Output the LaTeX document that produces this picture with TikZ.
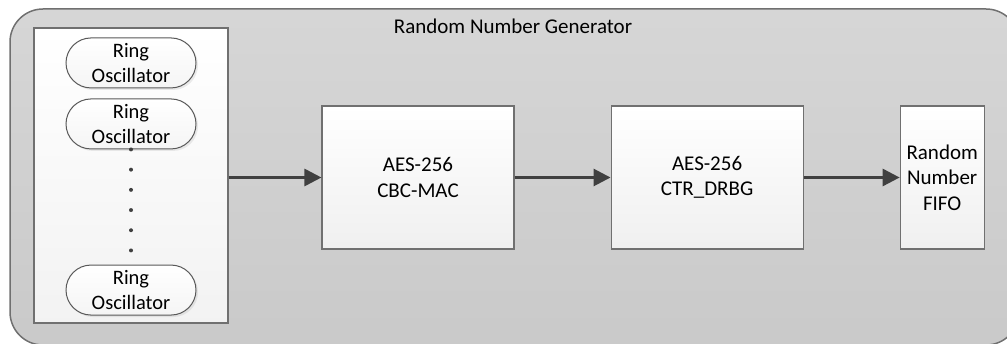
\documentclass[tikz,border=0pt]{standalone}
\usepackage{fontspec}
\setmainfont{Carlito}
\usetikzlibrary{arrows.meta, positioning, shapes.misc, shadows}
\definecolor{rimgray}{HTML}{707070}
\definecolor{flowgray}{HTML}{404040}

\begin{document}
\begin{tikzpicture}[x=1pt, y=1pt,
frame/.style={rectangle, draw=rimgray, line width=1.5pt, rounded corners=33pt, top color=black!16, bottom color=black!21, minimum width=1009pt, minimum height=336pt, inner sep=0pt},
panel/.style={rectangle, draw=rimgray, line width=1.1pt, top color=white, bottom color=black!5, minimum width=194pt, minimum height=295pt, inner sep=0pt},
block/.style={rectangle, draw=rimgray, line width=1.1pt, top color=white, bottom color=black!6, minimum height=143pt, align=center, inner sep=2pt, font=\fontsize{21}{25.5}\selectfont},
ring/.style={rounded rectangle, draw=black!65, line width=1pt, top color=white, bottom color=black!4, minimum width=132pt, minimum height=50pt, align=center, inner sep=1pt, font=\fontsize{20.5}{25}\selectfont, drop shadow={opacity=0.15, shadow xshift=2pt, shadow yshift=-2pt}},
flow/.style={-{Triangle[length=17pt, width=17pt]}, draw=flowgray, line width=2.8pt}
]
	\useasboundingbox (0,0) rectangle (1007,343);
	\clip (0,0) rectangle (1007,343);

	\node[frame] (rng) at (514.5,166) {};
	\node[anchor=base, shift={(-1.5pt,-25.5pt)}, font=\fontsize{21}{25.5}\selectfont] (title) at (rng.north) {Random Number Generator};

	\node[panel] (src) at (131,167.5) {};
	\node[ring, anchor=north, shift={(0pt,-10pt)}] (ro1) at (src.north) {Ring\\Oscillator};
	\node[ring, anchor=north, shift={(0pt,-10pt)}] (ro2) at (ro1.south) {Ring\\Oscillator};
	\node[ring, anchor=south, shift={(0pt,8pt)}] (ro3) at (src.south) {Ring\\Oscillator};
	\foreach \k in {0,...,5}
		\fill[flowgray] ([yshift={-20.2pt*\k}]ro2.south) circle (2pt);

	\node[block, minimum width=192pt] (mac) at (418,165.5) {AES-256\\CBC-MAC};
	\node[block, minimum width=192pt, anchor=west, shift={(96pt,0pt)}] (drbg) at (mac.east) {AES-256\\CTR\_DRBG};
	\node[block, minimum width=84pt, anchor=west, shift={(96pt,0pt)}] (fifo) at (drbg.east) {Random\\Number\\FIFO};

	\draw[flow] (src.east |- mac) -- (mac.west);
	\draw[flow] (mac) -- (drbg);
	\draw[flow] (drbg) -- (fifo);
\end{tikzpicture}
\end{document}
